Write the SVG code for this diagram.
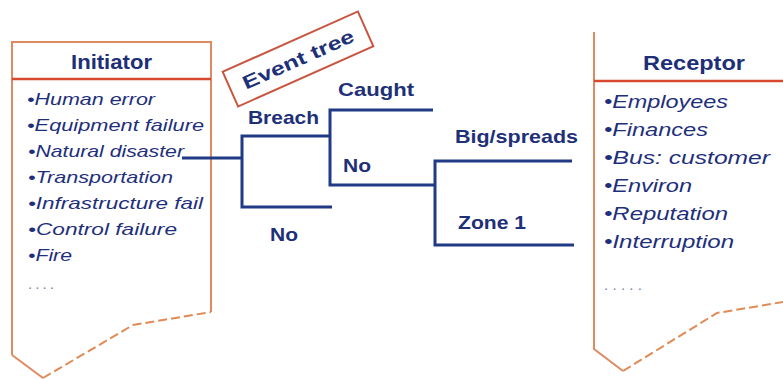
<svg xmlns="http://www.w3.org/2000/svg" width="783" height="379" viewBox="0 0 783 379">
<style>
.bg{fill:#ffffff}
.side{fill:none;stroke:#df8a62;stroke-width:2}
.cut{fill:none;stroke:#e08a55;stroke-width:2;stroke-dasharray:9 4}
.head{fill:none;stroke:#d8482c;stroke-width:2.5}
.title{font-family:"Liberation Sans",Arial,sans-serif;font-weight:bold;font-size:20px;fill:#1e2f78}
.item{font-family:"Liberation Sans",Arial,sans-serif;font-style:italic;font-size:17px;fill:#1e2f7c}
.ritem{font-family:"Liberation Sans",Arial,sans-serif;font-style:italic;font-size:18.5px;fill:#1e2f7c}
.dots{font-family:"Liberation Sans",Arial,sans-serif;font-size:15px;fill:#7a84a8}
.lbl{font-family:"Liberation Sans",Arial,sans-serif;font-weight:bold;font-size:19px;fill:#1e3078}
.tree{fill:none;stroke:#203a86;stroke-width:3}
.tag{fill:#ffffff;stroke:#c8553f;stroke-width:2}
</style>
<rect class="bg" x="0" y="0" width="783" height="379"/>

<g id="initiator">
  <path class="side" d="M12,355 L12,42 L211,42 L211,312"/>
  <path class="side" d="M12,355 L43,378"/>
  <path class="cut" d="M43,378 L133,325 L211,312"/>
  <path class="head" d="M12,79 L211,79"/>
  <text class="title" x="111.5" y="69" text-anchor="middle" textLength="81" lengthAdjust="spacingAndGlyphs">Initiator</text>
  <text class="item" x="27" y="105" textLength="128" lengthAdjust="spacingAndGlyphs">•Human error</text>
  <text class="item" x="27" y="131" textLength="177" lengthAdjust="spacingAndGlyphs">•Equipment failure</text>
  <text class="item" x="28" y="157" textLength="156" lengthAdjust="spacingAndGlyphs">•Natural disaster</text>
  <text class="item" x="28" y="183" textLength="145" lengthAdjust="spacingAndGlyphs">•Transportation</text>
  <text class="item" x="28" y="209" textLength="175" lengthAdjust="spacingAndGlyphs">•Infrastructure fail</text>
  <text class="item" x="28" y="235" textLength="149" lengthAdjust="spacingAndGlyphs">•Control failure</text>
  <text class="item" x="28" y="261" textLength="44" lengthAdjust="spacingAndGlyphs">•Fire</text>
  <text class="dots" x="28" y="289" textLength="26" lengthAdjust="spacing">....</text>
</g>

<g id="event-tree-tag" transform="translate(298,59) rotate(-24)">
  <rect class="tag" x="-74" y="-19" width="148" height="38"/>
  <text class="lbl" x="0" y="7" text-anchor="middle" textLength="120" lengthAdjust="spacingAndGlyphs">Event tree</text>
</g>

<g id="connectors">
  <path class="tree" d="M182,158 H242"/>
  <path class="tree" d="M332,207 H242 V136 H330"/>
  <path class="tree" d="M433,110 H330 V185 H435"/>
  <path class="tree" d="M572,161 H435 V245 H574"/>
</g>

<g id="breach"><text class="lbl" x="248" y="124" textLength="71" lengthAdjust="spacingAndGlyphs">Breach</text></g>
<g id="no-breach"><text class="lbl" x="270" y="241" textLength="28" lengthAdjust="spacingAndGlyphs">No</text></g>
<g id="caught"><text class="lbl" x="338" y="96" textLength="76" lengthAdjust="spacingAndGlyphs">Caught</text></g>
<g id="not-caught"><text class="lbl" x="343" y="172" textLength="28" lengthAdjust="spacingAndGlyphs">No</text></g>
<g id="big-spreads"><text class="lbl" x="455" y="143" textLength="123" lengthAdjust="spacingAndGlyphs">Big/spreads</text></g>
<g id="zone1"><text class="lbl" x="458" y="229" textLength="68" lengthAdjust="spacingAndGlyphs">Zone 1</text></g>

<g id="receptor">
  <path class="side" d="M594,32 L594,349 L623,371"/>
  <path class="cut" d="M623,371 L717,313 L783,302"/>
  <path class="head" d="M594,81 L783,81"/>
  <text class="title" x="694" y="70" text-anchor="middle" textLength="102" lengthAdjust="spacingAndGlyphs">Receptor</text>
  <text class="ritem" x="604" y="108" textLength="124" lengthAdjust="spacingAndGlyphs">•Employees</text>
  <text class="ritem" x="604" y="136" textLength="104" lengthAdjust="spacingAndGlyphs">•Finances</text>
  <text class="ritem" x="604" y="164" textLength="166" lengthAdjust="spacingAndGlyphs">•Bus: customer</text>
  <text class="ritem" x="604" y="192" textLength="88" lengthAdjust="spacingAndGlyphs">•Environ</text>
  <text class="ritem" x="604" y="220" textLength="124" lengthAdjust="spacingAndGlyphs">•Reputation</text>
  <text class="ritem" x="604" y="248" textLength="130" lengthAdjust="spacingAndGlyphs">•Interruption</text>
  <text class="dots" x="604" y="290" textLength="38" lengthAdjust="spacing">.....</text>
</g>
</svg>
